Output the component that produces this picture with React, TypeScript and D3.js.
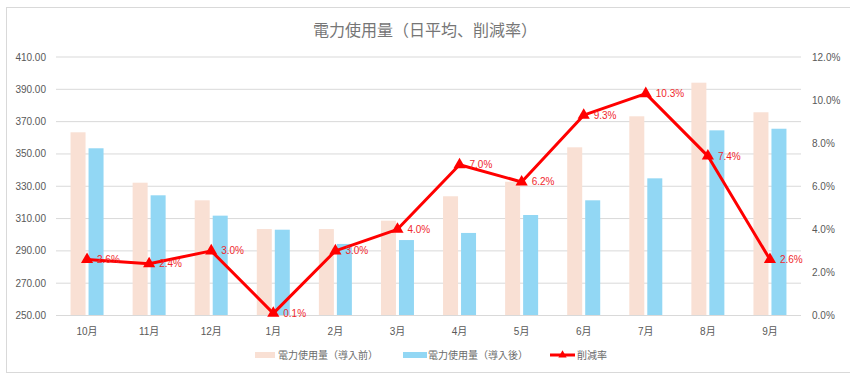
import React from "react";
import * as d3 from "d3";

const months = ["10月", "11月", "12月", "1月", "2月", "3月", "4月", "5月", "6月", "7月", "8月", "9月"];
const before = [363.4, 332.2, 321.3, 303.5, 303.5, 308.7, 323.8, 332.8, 354.1, 373.3, 394.1, 375.8];
const after = [353.5, 324.4, 311.8, 303.1, 294.3, 296.7, 301.1, 312.2, 321.3, 334.9, 364.6, 365.6];
const rates = [2.6, 2.4, 3.0, 0.1, 3.0, 4.0, 7.0, 6.2, 9.3, 10.3, 7.4, 2.6];
const leftTicks = [250, 270, 290, 310, 330, 350, 370, 390, 410];
const rightTicks = [0, 2, 4, 6, 8, 10, 12];
const title = "電力使用量（日平均、削減率）";
const legendLabels = ["電力使用量（導入前）", "電力使用量（導入後）", "削減率"];

const W = 850;
const H = 377;
const plot = { left: 56, right: 801, top: 57, bottom: 315.5 };
const colBefore = "#F9E0D4";
const colAfter = "#92D7F4";
const colLine = "#FF0000";
const textCol = "#595959";
const font = "'Liberation Sans', 'Noto Sans CJK JP', sans-serif";

export default function App() {
  const x = d3.scaleBand<string>().domain(months).range([plot.left, plot.right]);
  const yL = d3.scaleLinear().domain([250, 410]).range([plot.bottom, plot.top]);
  const yR = d3.scaleLinear().domain([0, 12]).range([plot.bottom, plot.top]);
  const barW = 15;
  const gap = 3;
  const cx = (m: string) => (x(m) as number) + x.bandwidth() / 2;
  const line = d3
    .line<number>()
    .x((_, i) => cx(months[i]))
    .y((d) => yR(d));
  const tri = d3.symbol().type(d3.symbolTriangle).size(64)();

  return (
    <svg width={W} height={H} style={{ position: "absolute", left: 0, top: 0, fontFamily: font }}>
      <rect x={0} y={0} width={W} height={H} fill="#fff" />
      <rect x={6.5} y={7.5} width={W} height={365} fill="#fff" stroke="#d9d9d9" />
      <text x={425} y={36} textAnchor="middle" fontSize={16} fill="#767676">
        {title}
      </text>
      {leftTicks.map((t) => (
        <g key={t}>
          <line x1={plot.left} x2={plot.right} y1={yL(t)} y2={yL(t)} stroke="#d9d9d9" strokeWidth={1} />
          <text x={46} y={yL(t)} dy="0.35em" textAnchor="end" fontSize={10} fill={textCol}>
            {t.toFixed(2)}
          </text>
        </g>
      ))}
      {rightTicks.map((t) => (
        <text key={t} x={812} y={yR(t)} dy="0.35em" textAnchor="start" fontSize={10} fill={textCol}>
          {t.toFixed(1) + "%"}
        </text>
      ))}
      {months.map((m, i) => (
        <g key={m}>
          <rect
            x={cx(m) - gap / 2 - barW}
            y={yL(before[i])}
            width={barW}
            height={plot.bottom - yL(before[i])}
            fill={colBefore}
          />
          <rect
            x={cx(m) + gap / 2}
            y={yL(after[i])}
            width={barW}
            height={plot.bottom - yL(after[i])}
            fill={colAfter}
          />
          <text x={cx(m)} y={331} dy="0.35em" textAnchor="middle" fontSize={10} fill={textCol}>
            {m}
          </text>
        </g>
      ))}
      <line x1={plot.left} x2={plot.right} y1={plot.bottom} y2={plot.bottom} stroke="#d9d9d9" />
      <path d={line(rates) as string} fill="none" stroke={colLine} strokeWidth={3} strokeLinejoin="round" />
      {rates.map((r, i) => (
        <g key={i}>
          <path d={tri as string} transform={`translate(${cx(months[i])},${yR(r)})`} fill={colLine} />
          <text x={cx(months[i]) + 10} y={yR(r)} dy="0.35em" fontSize={10} fill="#F0282D">
            {r.toFixed(1) + "%"}
          </text>
        </g>
      ))}
      <g fontSize={10} fill="#6a6a6a">
        <rect x={255} y={352} width={20} height={6} fill={colBefore} />
        <text x={278} y={355} dy="0.35em">{legendLabels[0]}</text>
        <rect x={403} y={352} width={24} height={6} fill={colAfter} />
        <text x={428} y={355} dy="0.35em">{legendLabels[1]}</text>
        <line x1={550} x2={575} y1={355} y2={355} stroke={colLine} strokeWidth={3} />
        <path d={d3.symbol().type(d3.symbolTriangle).size(30)() as string} transform="translate(562.5,355)" fill={colLine} />
        <text x={577} y={355} dy="0.35em">{legendLabels[2]}</text>
      </g>
    </svg>
  );
}
